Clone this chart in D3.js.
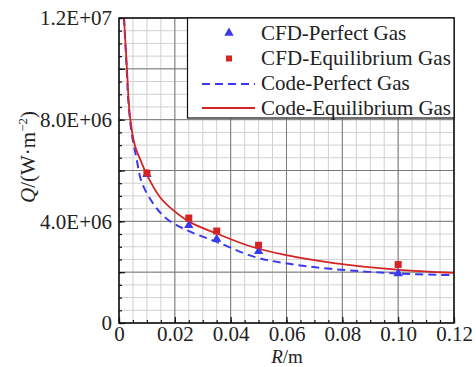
<!DOCTYPE html>
<html>
<head>
<meta charset="utf-8">
<script src="https://cdn.jsdelivr.net/npm/d3@7"></script>
<style>
body { margin: 0; background: #fff; }
svg text { font-family: "Liberation Serif", "Times New Roman", serif; fill: #222; }
</style>
</head>
<body>
<script>
// data
var cfdR = [0.01, 0.025, 0.035, 0.05, 0.10];
var cfdPerfect = [5.85e6, 3.84e6, 3.30e6, 2.82e6, 1.95e6];
var cfdEquil = [5.90e6, 4.13e6, 3.62e6, 3.06e6, 2.30e6];

var codeEquilR = [0.0018, 0.0028, 0.0039, 0.0057, 0.0081, 0.0099, 0.0147, 0.0195, 0.0254, 0.035, 0.047, 0.059, 0.077, 0.0995, 0.12];
var codeEquilQ = [1.2e7, 1.01e7, 8.16e6, 6.98e6, 6.3e6, 5.85e6, 4.95e6, 4.43e6, 3.97e6, 3.52e6, 3.02e6, 2.69e6, 2.36e6, 2.1e6, 1.97e6];
var codePerfR = [0.0018, 0.0028, 0.0033, 0.0045, 0.0063, 0.0081, 0.0123, 0.0171, 0.0243, 0.035, 0.048, 0.059, 0.077, 0.0995, 0.12];
var codePerfQ = [1.2e7, 9.9e6, 8.8e6, 7.5e6, 6.46e6, 5.55e6, 4.69e6, 4.1e6, 3.65e6, 3.19e6, 2.62e6, 2.36e6, 2.12e6, 1.95e6, 1.88e6];

var xTicks = [0, 0.02, 0.04, 0.06, 0.08, 0.10, 0.12];
var xTickLabels = ['0', '0.02', '0.04', '0.06', '0.08', '0.10', '0.12'];
var yTicks = [0, 2e6, 4e6, 6e6, 8e6, 1e7, 1.2e7];
var yTickLabels = ['0', '', '4.0E+06', '', '8.0E+06', '', '1.2E+07'];
var legendNames = ['CFD-Perfect Gas', 'CFD-Equilibrium Gas', 'Code-Perfect Gas', 'Code-Equilibrium Gas'];

var blue = '#3a3af0', red = '#d42424';

var W = 476, H = 367;
var pLeft = 119, pRight = 454, pTop = 18, pBottom = 323;

var svg = d3.select('body').append('svg')
    .attr('width', W)
    .attr('height', H);

var x = d3.scaleLinear().domain([0, 0.12]).range([pLeft, pRight]);
var y = d3.scaleLinear().domain([0, 1.2e7]).range([pBottom, pTop]);

var minorX = d3.range(0, 0.1201, 0.005);
var minorY = d3.range(0, 1.2001e7, 5e5);

// grid
var grid = svg.append('g');
grid.selectAll('line.mx').data(minorX).enter().append('line')
    .attr('x1', function(d) { return x(d); }).attr('x2', function(d) { return x(d); })
    .attr('y1', pTop).attr('y2', pBottom)
    .attr('stroke', '#d0d0d0').attr('stroke-width', 1);
grid.selectAll('line.my').data(minorY).enter().append('line')
    .attr('y1', function(d) { return y(d); }).attr('y2', function(d) { return y(d); })
    .attr('x1', pLeft).attr('x2', pRight)
    .attr('stroke', '#d0d0d0').attr('stroke-width', 1);
grid.selectAll('line.Mx').data(xTicks).enter().append('line')
    .attr('x1', function(d) { return x(d); }).attr('x2', function(d) { return x(d); })
    .attr('y1', pTop).attr('y2', pBottom)
    .attr('stroke', '#7a7a7a').attr('stroke-width', 1);
grid.selectAll('line.My').data(yTicks).enter().append('line')
    .attr('y1', function(d) { return y(d); }).attr('y2', function(d) { return y(d); })
    .attr('x1', pLeft).attr('x2', pRight)
    .attr('stroke', '#7a7a7a').attr('stroke-width', 1);

// curves
svg.append('clipPath').attr('id', 'plot').append('rect')
    .attr('x', pLeft).attr('y', pTop).attr('width', pRight - pLeft).attr('height', pBottom - pTop);

var line = d3.line()
    .x(function(d) { return x(d[0]); })
    .y(function(d) { return y(d[1]); })
    .curve(d3.curveCatmullRom.alpha(0.5));

svg.append('path')
    .datum(d3.zip(codePerfR, codePerfQ))
    .attr('clip-path', 'url(#plot)')
    .attr('d', line)
    .attr('fill', 'none')
    .attr('stroke', blue)
    .attr('stroke-width', 2)
    .attr('stroke-dasharray', '8,5');

svg.append('path')
    .datum(d3.zip(codeEquilR, codeEquilQ))
    .attr('clip-path', 'url(#plot)')
    .attr('d', line)
    .attr('fill', 'none')
    .attr('stroke', red)
    .attr('stroke-width', 1.8);

// markers
var tri = d3.symbol().type(d3.symbolTriangle).size(38);
svg.selectAll('path.tri').data(d3.zip(cfdR, cfdPerfect)).enter().append('path')
    .attr('d', tri)
    .attr('transform', function(d) { return 'translate(' + x(d[0]) + ',' + y(d[1]) + ')'; })
    .attr('fill', blue);
svg.selectAll('rect.sq').data(d3.zip(cfdR, cfdEquil)).enter().append('rect')
    .attr('x', function(d) { return x(d[0]) - 3.5; })
    .attr('y', function(d) { return y(d[1]) - 3.5; })
    .attr('width', 7).attr('height', 7)
    .attr('fill', red);

// axes (ticks point inward)
var xAxis = svg.append('g')
    .attr('transform', 'translate(0,' + pBottom + ')')
    .call(d3.axisBottom(x).tickValues(xTicks).tickSize(-6).tickPadding(3)
        .tickFormat(function(d, i) { return xTickLabels[i]; }));
svg.append('g')
    .attr('transform', 'translate(0,' + pBottom + ')')
    .call(d3.axisBottom(x).tickValues(minorX).tickSize(-3).tickFormat(''));
var yAxis = svg.append('g')
    .attr('transform', 'translate(' + pLeft + ',0)')
    .call(d3.axisLeft(y).tickValues(yTicks).tickSize(-6).tickPadding(7)
        .tickFormat(function(d, i) { return yTickLabels[i]; }));
svg.append('g')
    .attr('transform', 'translate(' + pLeft + ',0)')
    .call(d3.axisLeft(y).tickValues(minorY).tickSize(-3).tickFormat(''));

svg.selectAll('.tick line').attr('stroke', '#111').attr('stroke-width', 1.2);
svg.selectAll('.domain').remove();
svg.selectAll('.tick text')
    .attr('font-family', '"Liberation Serif", "Times New Roman", serif')
    .attr('font-size', 21)
    .attr('fill', '#222');
xAxis.selectAll('.tick text').attr('dy', '0.71em');
yAxis.selectAll('.tick text').attr('dy', '0.33em');

// frame
svg.append('rect')
    .attr('x', pLeft).attr('y', pTop)
    .attr('width', pRight - pLeft).attr('height', pBottom - pTop)
    .attr('fill', 'none').attr('stroke', '#111').attr('stroke-width', 1.5);

// legend
var lg = svg.append('g');
lg.append('rect')
    .attr('x', 187.5).attr('y', pTop)
    .attr('width', pRight - 187.5).attr('height', 100)
    .attr('fill', '#fff').attr('stroke', '#111').attr('stroke-width', 1.2);
lg.selectAll('text').data(legendNames).enter().append('text')
    .attr('x', 261)
    .attr('y', function(d, i) { return 33 + i * 25; })
    .attr('dy', '0.35em')
    .attr('font-size', 21)
    .attr('textLength', function(d, i) { return i === 1 || i === 3 ? 190 : null; })
    .text(function(d) { return d; });
lg.append('path').attr('d', tri)
    .attr('transform', 'translate(229,33)').attr('fill', blue);
lg.append('rect').attr('x', 226).attr('y', 55.5).attr('width', 6).attr('height', 6).attr('fill', red);
lg.append('line').attr('x1', 202).attr('x2', 255).attr('y1', 84).attr('y2', 84)
    .attr('stroke', blue).attr('stroke-width', 2).attr('stroke-dasharray', '8,5');
lg.append('line').attr('x1', 202).attr('x2', 255).attr('y1', 108).attr('y2', 108)
    .attr('stroke', red).attr('stroke-width', 1.8);

// axis titles
var xt = svg.append('text')
    .attr('x', 287).attr('y', 362.5)
    .attr('text-anchor', 'middle')
    .attr('font-size', 19);
xt.append('tspan').attr('font-style', 'italic').text('R');
xt.append('tspan').text('/m');

var yt = svg.append('text')
    .attr('transform', 'translate(35,157) rotate(-90)')
    .attr('text-anchor', 'middle')
    .attr('font-size', 21);
yt.append('tspan').attr('font-style', 'italic').text('Q');
yt.append('tspan').text('/(W·m');
yt.append('tspan').attr('font-size', 13).attr('dy', -8).text('−2');
yt.append('tspan').attr('dy', 8).text(')');
</script>
</body>
</html>
